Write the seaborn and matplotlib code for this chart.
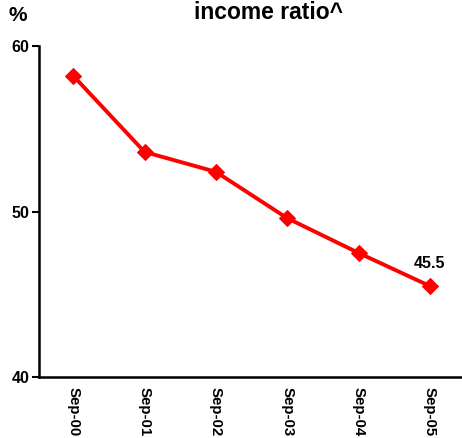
import matplotlib
matplotlib.use("Agg")
import matplotlib.pyplot as plt
import seaborn as sns
import pandas as pd

periods = ["Sep-00", "Sep-01", "Sep-02", "Sep-03", "Sep-04", "Sep-05"]
ratio = [58.2, 53.6, 52.4, 49.6, 47.5, 45.5]
y_ticks = [40, 50, 60]

sns.set_style("ticks")
plt.rcParams["font.family"] = ["Liberation Sans", "DejaVu Sans"]
plt.rcParams["text.color"] = "black"
plt.rcParams["xtick.color"] = "black"
plt.rcParams["ytick.color"] = "black"

df = pd.DataFrame({"pos": range(len(periods)), "ratio": ratio})

fig = plt.figure(figsize=(4.62, 4.38), dpi=100)
ax = fig.add_axes([0.0844, 0.139, 0.9156, 0.756])

sns.lineplot(data=df, x="pos", y="ratio", ax=ax, color="#ff0000", linewidth=2.8,
             marker="D", markersize=8, markeredgecolor="#ff0000")

ax.set_xlim(-0.48, 5.45)
ax.set_ylim(40, 60)
ax.set_yticks(y_ticks)
ax.set_yticklabels([str(t) for t in y_ticks], fontsize=11.5, fontweight="bold")
ax.set_xticks(range(len(periods)))
ax.set_xticklabels(periods, rotation=270, fontsize=10.8, fontweight="bold", va="top")
ax.tick_params(axis="x", length=0, pad=7)
ax.tick_params(axis="y", length=5, width=1.5, pad=2)
ax.set_xlabel("")
ax.set_ylabel("")
for s in ["top", "right"]:
    ax.spines[s].set_visible(False)
for s in ["left", "bottom"]:
    ax.spines[s].set_linewidth(1.8)
    ax.spines[s].set_color("black")

ax.annotate(f"{ratio[-1]}", (5, ratio[-1]), xytext=(0, 11), textcoords="offset points",
            ha="center", va="bottom", fontsize=11.5, fontweight="bold")

fig.text(0.582, 0.997, "income ratio^", ha="center", va="top", fontsize=16.5, fontweight="bold")
fig.text(0.018, 0.943, "%", ha="left", va="bottom", fontsize=15, fontweight="bold")

fig.savefig("out.png", dpi=100)
